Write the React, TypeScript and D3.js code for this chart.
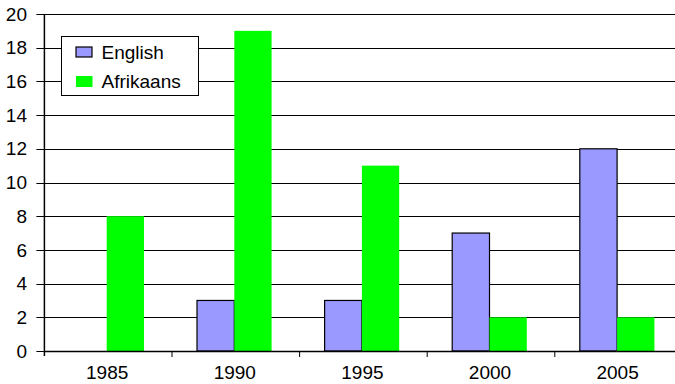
import React from "react";
import * as d3 from "d3";

// Number of items per year, by language
const years = ["1985", "1990", "1995", "2000", "2005"];
const english = [0, 3, 3, 7, 12];
const afrikaans = [8, 19, 11, 2, 2];
const yTicks = [0, 2, 4, 6, 8, 10, 12, 14, 16, 18, 20];

const W = 675;
const H = 384;
const left = 44.4;
const step = 127.6;
const top = 14;
const bottom = 351;
const barW = 37.3;

export default function App() {
  const x = d3
    .scaleBand<string>()
    .domain(years)
    .range([left, left + step * years.length])
    .padding(0);
  const y = d3.scaleLinear().domain([0, 20]).range([bottom, top]);

  const font = "'Liberation Sans', Arial, Helvetica, sans-serif";
  const fs = 19;

  return (
    <svg
      width={W}
      height={H}
      style={{ position: "absolute", left: 0, top: 0, background: "#fff" }}
      fontFamily={font}
    >
      {/* horizontal gridlines */}
      {yTicks.map((t) => (
        <line
          key={"g" + t}
          x1={left}
          x2={W}
          y1={Math.round(y(t)) + 0.5}
          y2={Math.round(y(t)) + 0.5}
          stroke="#000"
          strokeWidth={1}
        />
      ))}
      {/* bars */}
      {years.map((yr, i) => {
        const cx = (x(yr) as number) + x.bandwidth() / 2 - 1.5;
        return (
          <g key={yr}>
            {english[i] > 0 && (
              <rect
                x={cx - barW}
                y={y(english[i])}
                width={barW}
                height={y(0) - y(english[i])}
                fill="#9999ff"
                stroke="#000"
                strokeWidth={1.2}
              />
            )}
            {afrikaans[i] > 0 && (
              <rect
                x={cx}
                y={y(afrikaans[i])}
                width={barW}
                height={y(0) - y(afrikaans[i])}
                fill="#00ff00"
              />
            )}
          </g>
        );
      })}
      {/* y axis */}
      <line x1={left} x2={left} y1={top} y2={bottom + 5} stroke="#000" strokeWidth={1.5} />
      {yTicks.map((t) => (
        <g key={"y" + t}>
          <line
            x1={left - 8}
            x2={left}
            y1={Math.round(y(t)) + 0.5}
            y2={Math.round(y(t)) + 0.5}
            stroke="#000"
          />
          <text x={27} y={y(t)} dy="0.35em" textAnchor="end" fontSize={fs} fill="#000">
            {t}
          </text>
        </g>
      ))}
      {/* x axis */}
      <line x1={left} x2={W} y1={bottom + 0.5} y2={bottom + 0.5} stroke="#000" strokeWidth={1.5} />
      {years.map((yr) => (
        <g key={"x" + yr}>
          <line
            x1={(x(yr) as number) + step}
            x2={(x(yr) as number) + step}
            y1={bottom}
            y2={bottom + 6}
            stroke="#000"
          />
          <text
            x={(x(yr) as number) + x.bandwidth() / 2 - 1}
            y={379}
            textAnchor="middle"
            fontSize={fs}
            fill="#000"
          >
            {yr}
          </text>
        </g>
      ))}
      {/* legend */}
      <g>
        <rect x={61.5} y={36.5} width={137} height={59} fill="#fff" stroke="#000" strokeWidth={1} />
        <rect x={76} y={47} width={16} height={10} fill="#9999ff" stroke="#000" strokeWidth={1.2} />
        <text x={101.5} y={59} fontSize={fs} fill="#000">English</text>
        <rect x={76} y={76} width={16.5} height={11} fill="#00ff00" />
        <text x={101.5} y={88} fontSize={fs} fill="#000">Afrikaans</text>
      </g>
    </svg>
  );
}
